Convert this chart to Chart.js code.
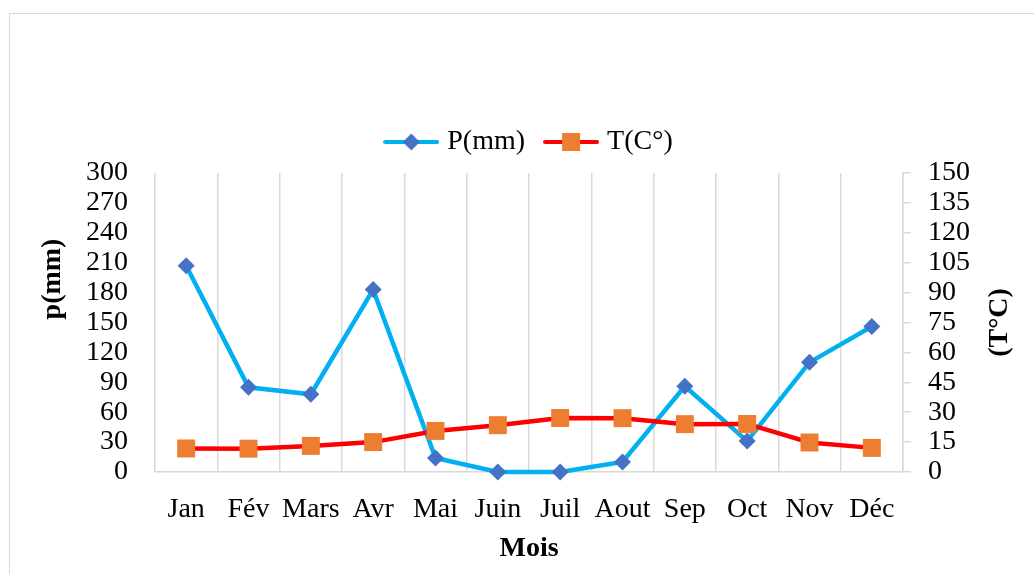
<!DOCTYPE html>
<html lang="fr">
<head>
<meta charset="utf-8">
<title>P(mm) et T(C°)</title>
<script src="https://cdn.jsdelivr.net/npm/chart.js@4/dist/chart.umd.min.js"></script>
<style>
  html, body { margin: 0; padding: 0; background: #fff; overflow: hidden; }
  #frame { position: absolute; left: 9px; top: 13px; width: 1100px; height: 700px; border: 1px solid #d9d9d9; }
  #wrap { position: absolute; left: 0; top: 0; width: 1034px; height: 574px; }
</style>
</head>
<body>
<div id="frame"></div>
<div id="wrap"><canvas id="chart" width="1034" height="574"></canvas></div>
<script>
// Monthly precipitation (left axis) and temperature (right axis)
const months = ['Jan', 'Fév', 'Mars', 'Avr', 'Mai', 'Juin', 'Juil', 'Aout', 'Sep', 'Oct', 'Nov', 'Déc'];
const precipitation = [207, 85, 78, 183, 14, 0, 0, 10, 86, 31, 110, 146];
const temperature = [11.8, 11.7, 13.1, 15.0, 20.6, 23.5, 27.1, 27.0, 24.0, 24.1, 14.8, 12.1];
const precipTicks = [0, 30, 60, 90, 120, 150, 180, 210, 240, 270, 300];
const tempTicks = [0, 15, 30, 45, 60, 75, 90, 105, 120, 135, 150];

const seriesNames = ['P(mm)', 'T(C°)'];
const axisTitleLeft = 'p(mm)';
const axisTitleRight = '(T°C)';
const axisTitleBottom = 'Mois';

const FONT = '"Liberation Serif", "Times New Roman", serif';
const FS = 28;
const CYAN = '#00b0f0', BLUE = '#4472c4', RED = '#ff0000', ORANGE = '#ed7d31', GRID = '#d9d9d9';

// Legend swatch: a short line with the marker in its middle
function swatch(lineColor, markerColor, shape) {
  const c = document.createElement('canvas');
  c.width = 56; c.height = 22;
  const g = c.getContext('2d');
  g.strokeStyle = lineColor; g.lineWidth = 4; g.lineCap = 'round';
  g.beginPath(); g.moveTo(2, 11); g.lineTo(54, 11); g.stroke();
  g.fillStyle = markerColor;
  g.beginPath();
  if (shape === 'diamond') {
    g.moveTo(28, 2.5); g.lineTo(36.5, 11); g.lineTo(28, 19.5); g.lineTo(19.5, 11); g.closePath();
  } else {
    g.rect(19, 2, 18, 18);
  }
  g.fill();
  return c;
}
const swatches = [swatch(CYAN, BLUE, 'diamond'), swatch(RED, ORANGE, 'square')];

// Vertical axis titles (both reading bottom to top) and legend placement
const axisTitles = {
  id: 'axisTitles',
  afterLayout(chart) {
    const lg = chart.legend;
    if (lg) { lg.left += 14; lg.right += 14; lg.top -= 7; lg.bottom -= 7; }
  },
  afterDraw(chart) {
    const { ctx, chartArea: a } = chart;
    ctx.save();
    ctx.font = 'bold ' + FS + 'px ' + FONT;
    ctx.fillStyle = '#000';
    ctx.textAlign = 'center';
    ctx.textBaseline = 'middle';
    const put = (text, x, y) => {
      ctx.save(); ctx.translate(x, y); ctx.rotate(-Math.PI / 2); ctx.fillText(text, 0, 0); ctx.restore();
    };
    put(axisTitleLeft, a.left - 102, a.top + 106);
    put(axisTitleRight, a.right + 97, (a.top + a.bottom) / 2);
    ctx.restore();
  }
};

new Chart(document.getElementById('chart'), {
  type: 'line',
  data: {
    labels: months,
    datasets: [
      {
        label: seriesNames[0], data: precipitation, yAxisID: 'y',
        borderColor: CYAN, borderWidth: 4.5, tension: 0,
        pointStyle: 'rectRot', pointRadius: 8.5, pointHoverRadius: 8.5,
        pointBackgroundColor: BLUE, pointBorderColor: BLUE, pointBorderWidth: 0,
        clip: false, order: 2
      },
      {
        label: seriesNames[1], data: temperature, yAxisID: 'y1',
        borderColor: RED, borderWidth: 4.5, tension: 0,
        pointStyle: 'rect', pointRadius: 12.7, pointHoverRadius: 12.7,
        pointBackgroundColor: ORANGE, pointBorderColor: ORANGE, pointBorderWidth: 0,
        clip: false, order: 1
      }
    ]
  },
  options: {
    responsive: false,
    animation: false,
    events: [],
    layout: { padding: { top: 111, left: 0, right: 0, bottom: 0 } },
    plugins: {
      tooltip: { enabled: false },
      legend: {
        position: 'top',
        labels: {
          usePointStyle: true,
          pointStyleWidth: 44,
          padding: 24,
          color: '#000',
          font: { family: FONT, size: FS },
          generateLabels(chart) {
            return chart.data.datasets.map((ds, i) => ({
              text: ds.label, pointStyle: swatches[i], datasetIndex: i,
              fillStyle: 'transparent', strokeStyle: 'transparent', lineWidth: 0, fontColor: '#000'
            }));
          }
        }
      }
    },
    scales: {
      x: {
        offset: true,
        grid: { offset: true, display: true, drawTicks: false, color: GRID, lineWidth: 1.5 },
        border: { display: true, color: GRID, width: 1.5 },
        ticks: { color: '#000', padding: 21, maxRotation: 0, autoSkip: false, font: { family: FONT, size: FS } },
        title: { display: true, text: axisTitleBottom, color: '#000', padding: { top: 0, bottom: 8 }, font: { family: FONT, size: FS, weight: 'bold' } },
        afterFit(s) { s.height = 102; }
      },
      y: {
        position: 'left',
        min: 0, max: 300,
        afterBuildTicks(s) { s.ticks = precipTicks.map(v => ({ value: v })); },
        grid: { display: false },
        border: { display: false },
        ticks: { color: '#000', padding: 19, autoSkip: false, font: { family: FONT, size: FS } },
        afterFit(s) { s.width = 155; }
      },
      y1: {
        position: 'right',
        min: 0, max: 150,
        afterBuildTicks(s) { s.ticks = tempTicks.map(v => ({ value: v })); },
        grid: { display: true, drawOnChartArea: false, drawTicks: true, tickLength: 8, color: GRID, lineWidth: 1.5 },
        border: { display: true, color: GRID, width: 1.5 },
        ticks: { color: '#000', padding: 17, autoSkip: false, font: { family: FONT, size: FS } },
        afterFit(s) { s.width = 131; }
      }
    }
  },
  plugins: [axisTitles]
});
</script>
</body>
</html>
